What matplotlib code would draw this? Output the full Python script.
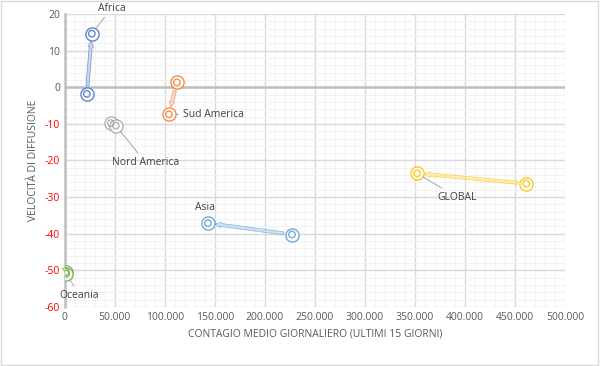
import numpy as np
import matplotlib.pyplot as plt
from matplotlib.ticker import MultipleLocator, FuncFormatter

# regions: start point -> end point
regions = ["Africa", "Sud America", "Nord America", "Asia", "GLOBAL", "Oceania"]
x_start = [22000, 112000, 46000, 227000, 461000, 1000]
y_start = [-1.8, 1.3, -9.8, -40.2, -26.3, -50.4]
x_end = [27000, 104000, 51000, 143000, 352000, 1500]
y_end = [14.6, -7.4, -10.5, -37.1, -23.5, -50.9]
colors = ["#4472C4", "#ED7D31", "#A5A5A5", "#5B9BD5", "#FFC000", "#70AD47"]
light = ["#B4C7E7", "#F8CBAD", "#DBDBDB", "#BDD7EE", "#FFE699", "#C5E0B4"]

# label position (data coords) and whether a leader line is drawn
lab_xy = [(33000, 21.6), (118000, -7.4), (47000, -20.5), (130000, -32.8), (372000, -30.0), (-5000, -56.8)]
lab_lead = [True, True, True, False, True, True]

plt.rcParams['font.family'] = ['Open Sans', 'DejaVu Sans']
fig = plt.figure(figsize=(6, 3.66), dpi=100)
ax = fig.add_axes([0.108, 0.161, 0.834, 0.801])

ax.set_xlim(0, 500000)
ax.set_ylim(-60, 20)
ax.xaxis.set_major_locator(MultipleLocator(50000))
ax.xaxis.set_minor_locator(MultipleLocator(10000))
ax.yaxis.set_major_locator(MultipleLocator(10))
ax.yaxis.set_minor_locator(MultipleLocator(2))
ax.grid(which='major', color='#D9D9D9', lw=1.0)
ax.grid(which='minor', color='#F2F2F2', lw=0.8)
ax.set_axisbelow(True)
for s in ['top', 'right', 'bottom']:
    ax.spines[s].set_visible(False)
ax.spines['left'].set_color('#BFBFBF')
ax.spines['left'].set_linewidth(1.8)
ax.axhline(0, color='#BFBFBF', lw=1.8, zorder=1)
ax.tick_params(which='both', length=0, labelsize=7.5, colors='#595959')

ax.xaxis.set_major_formatter(FuncFormatter(lambda v, p: f"{int(v):,}".replace(",", ".")))
ax.yaxis.set_major_formatter(FuncFormatter(lambda v, p: f"{int(v)}"))
fig.canvas.draw()
for t in ax.get_yticklabels():
    try:
        if float(t.get_text().replace('−', '-')) < 0:
            t.set_color('red')
    except ValueError:
        pass

for i in range(len(regions)):
    ax.annotate("", xy=(x_end[i], y_end[i]), xytext=(x_start[i], y_start[i]),
                arrowprops=dict(arrowstyle="simple,head_length=0.45,head_width=0.4,tail_width=0.22",
                                fc=light[i], ec=colors[i], lw=0.5, alpha=0.7,
                                shrinkA=6, shrinkB=5), zorder=3)
    xs = [x_start[i], x_end[i]]
    ys = [y_start[i], y_end[i]]
    ax.scatter(xs, ys, s=90, facecolors='white', edgecolors=colors[i], linewidths=1.0, alpha=0.85, zorder=4)
    ax.scatter(xs, ys, s=22, facecolors='none', edgecolors=colors[i], linewidths=1.0, alpha=0.85, zorder=5)
    if lab_lead[i]:
        ax.annotate(regions[i], xy=(x_end[i], y_end[i]), xytext=lab_xy[i],
                    fontsize=7.5, color='#404040', ha='left', va='center',
                    annotation_clip=False,
                    arrowprops=dict(arrowstyle='-', color='#A6A6A6', lw=0.7,
                                    shrinkA=1, shrinkB=5), zorder=6)
    else:
        ax.text(lab_xy[i][0], lab_xy[i][1], regions[i], fontsize=7.5,
                color='#404040', va='center', zorder=6)

ax.set_xlabel("CONTAGIO MEDIO GIORNALIERO (ULTIMI 15 GIORNI)", fontsize=7.5, color='#595959', labelpad=4)
ax.set_ylabel("VELOCITÀ DI DIFFUSIONE", fontsize=7.5, color='#595959', labelpad=4)

fig.patches.append(plt.Rectangle((0.002, 0.003), 0.995, 0.994, transform=fig.transFigure,
                                 fill=False, ec='#D9D9D9', lw=1))
fig.savefig("out.png", dpi=100)
